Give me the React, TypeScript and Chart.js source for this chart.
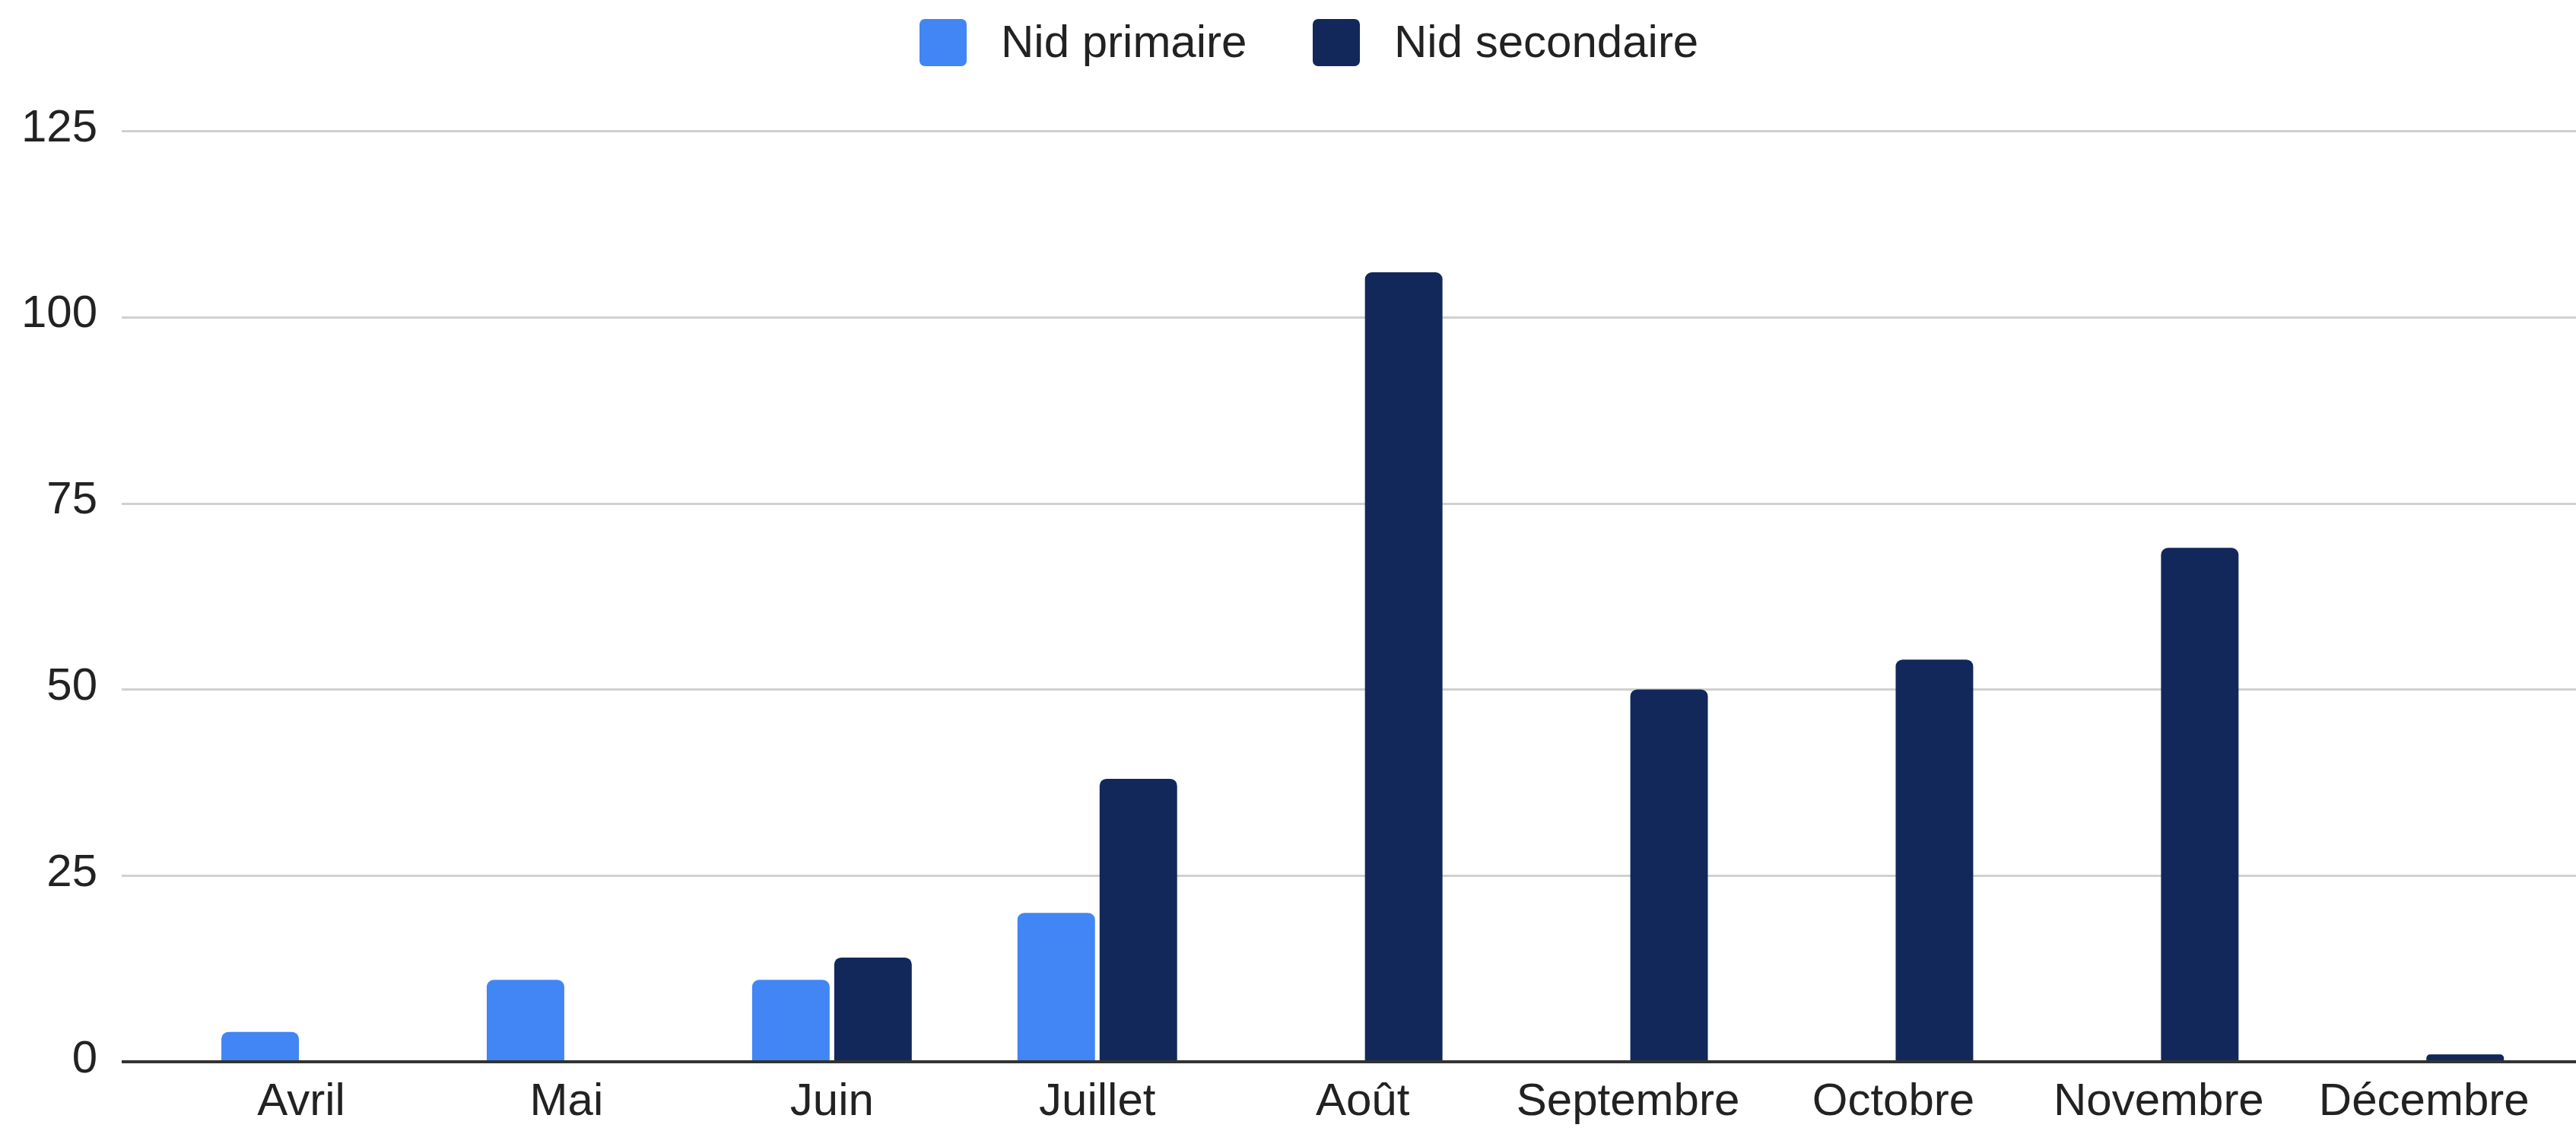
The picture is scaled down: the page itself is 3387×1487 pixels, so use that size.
import React, { useEffect, useRef } from "react";
import { Chart, registerables } from "chart.js";

Chart.register(...registerables);

const months = ["Avril", "Mai", "Juin", "Juillet", "Août", "Septembre", "Octobre", "Novembre", "Décembre"];
const nidPrimaire = [4, 11, 11, 20, null, null, null, null, null];
const nidSecondaire = [null, null, 14, 38, 106, 50, 54, 69, 1];
const seriesNames = ["Nid primaire", "Nid secondaire"];
const seriesColors = ["#4285F4", "#12285A"];
const yTicks = [0, 25, 50, 75, 100, 125];

const W = 3387;
const H = 1487;
const FONT = "Arial, 'Liberation Sans', sans-serif";

const gridPlugin = {
  id: "sheetGrid",
  beforeDatasetsDraw(chart: any) {
    const ctx = chart.ctx;
    const y = chart.scales.y;
    ctx.save();
    ctx.strokeStyle = "#d0d0d0";
    ctx.lineWidth = 3;
    for (const v of yTicks) {
      if (v === 0) continue;
      const py = Math.round(y.getPixelForValue(v)) + 0.5;
      ctx.beginPath();
      ctx.moveTo(160, py);
      ctx.lineTo(chart.width, py);
      ctx.stroke();
    }
    ctx.restore();
  },
  afterDatasetsDraw(chart: any) {
    const ctx = chart.ctx;
    const y = chart.scales.y;
    ctx.save();
    ctx.strokeStyle = "#333333";
    ctx.lineWidth = 4;
    const py = y.getPixelForValue(0);
    ctx.beginPath();
    ctx.moveTo(160, py);
    ctx.lineTo(chart.width, py);
    ctx.stroke();
    ctx.restore();
  },
  afterDraw(chart: any) {
    const ctx = chart.ctx;
    ctx.save();
    ctx.font = `60px ${FONT}`;
    ctx.textBaseline = "alphabetic";
    ctx.textAlign = "left";
    const boxes = [1209, 1726];
    const box = 62;
    seriesNames.forEach((name, i) => {
      const bx = boxes[i];
      ctx.fillStyle = seriesColors[i];
      ctx.beginPath();
      (ctx as any).roundRect(bx, 25, box, box, 7);
      ctx.fill();
      ctx.fillStyle = "#222222";
      ctx.fillText(name, bx + box + 45, 75);
    });
    ctx.restore();
  },
};

export default function App() {
  const ref = useRef<HTMLCanvasElement | null>(null);
  useEffect(() => {
    if (!ref.current) return;
    const radius = { topLeft: 9, topRight: 9, bottomLeft: 0, bottomRight: 0 };
    const chart = new Chart(ref.current, {
      type: "bar",
      data: {
        labels: months,
        datasets: [
          {
            label: seriesNames[0],
            data: nidPrimaire as any,
            backgroundColor: seriesColors[0],
            borderRadius: radius,
            borderSkipped: false,
            categoryPercentage: 0.619,
            barPercentage: 0.944,
          },
          {
            label: seriesNames[1],
            data: nidSecondaire as any,
            backgroundColor: seriesColors[1],
            borderRadius: radius,
            borderSkipped: false,
            categoryPercentage: 0.619,
            barPercentage: 0.944,
          },
        ],
      },
      options: {
        responsive: false,
        animation: false,
        devicePixelRatio: 1,
        layout: { padding: { top: 172, right: 25.3, left: 0, bottom: 0 } },
        plugins: {
          legend: { display: false },
          tooltip: { enabled: false },
        },
        scales: {
          x: {
            grid: { display: false, drawTicks: false },
            border: { display: false },
            ticks: {
              font: { family: FONT, size: 60 },
              color: "#222222",
              padding: 17,
              maxRotation: 0,
              autoSkip: false,
            },
            afterFit: (s: any) => {
              s.height = 91;
              s.paddingLeft = 0;
              s.paddingRight = 0;
            },
          },
          y: {
            min: 0,
            max: 125,
            grid: { display: false, drawTicks: false },
            border: { display: false },
            ticks: {
              stepSize: 25,
              font: { family: FONT, size: 60 },
              color: "#222222",
              padding: 93.6,
              labelOffset: -3,
            },
            afterFit: (s: any) => {
              s.width = 221.6;
              s.paddingTop = 0;
              s.paddingBottom = 0;
            },
          },
        },
      },
      plugins: [gridPlugin],
    });
    return () => chart.destroy();
  }, []);
  return (
    <div style={{ position: "absolute", left: 0, top: 0, width: W, height: H, background: "#ffffff" }}>
      <canvas ref={ref} width={W} height={H} style={{ width: W, height: H, display: "block" }} />
    </div>
  );
}
